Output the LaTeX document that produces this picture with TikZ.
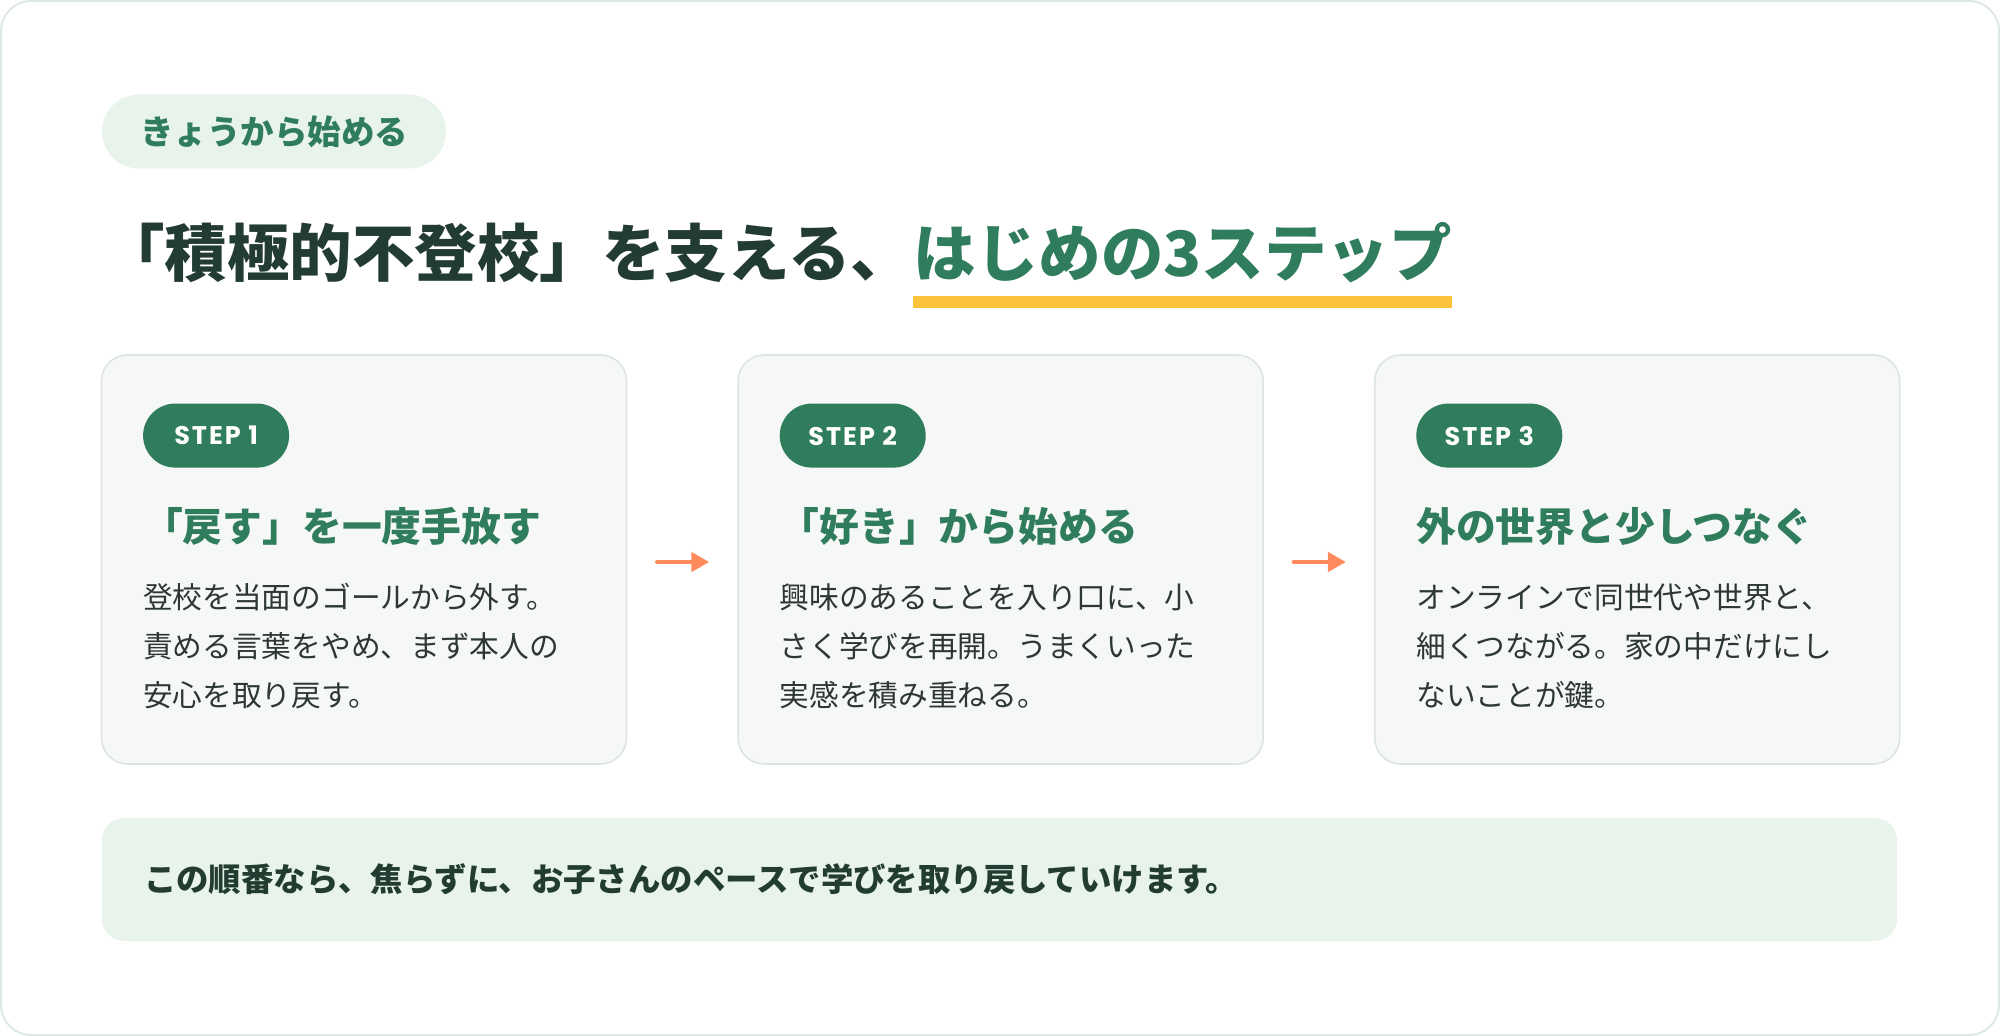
\documentclass[tikz,border=0pt]{standalone}
\usepackage{fontspec}
\setmainfont{Noto Sans CJK JP}
\newfontfamily\tagfont[LetterSpace=8]{Poppins}
\usepackage{xcolor}
\usetikzlibrary{arrows.meta,positioning}
\definecolor{inkdark}{HTML}{233C31}
\definecolor{inkbody}{HTML}{2E3833}
\definecolor{leaf}{HTML}{2F7D5C}
\definecolor{mint}{HTML}{E8F3EC}
\definecolor{cardbg}{HTML}{F6F8F7}
\definecolor{cardline}{HTML}{DCE5E1}
\definecolor{frameline}{HTML}{DDE9E4}
\definecolor{marker}{HTML}{FCC23B}
\definecolor{coral}{HTML}{FF8A5C}
\tikzset{
	outerframe/.style={draw=frameline, line width=1pt, rounded corners=15pt},
	kicker/.style={fill=mint, rounded corners=18.5pt, minimum width=172pt, minimum height=37pt, inner sep=0pt, text=leaf, font=\bfseries\fontsize{16.75}{16.75}\selectfont},
	headline/.style={anchor=west, inner sep=0pt, text=inkdark, font=\bfseries\fontsize{31.25}{31.25}\selectfont},
	card/.style={draw=cardline, fill=cardbg, line width=0.8pt, rounded corners=13pt, minimum width=262.5pt, minimum height=204.5pt, inner sep=0pt},
	steptag/.style={fill=leaf, text=white, rounded corners=16pt, minimum width=73pt, minimum height=32pt, inner sep=0pt, anchor=north west, font=\tagfont\bfseries\fontsize{12.75}{12.75}\selectfont},
	stephead/.style={anchor=west, inner sep=0pt, text=leaf, font=\bfseries\fontsize{19.9}{19.9}\selectfont},
	stepbody/.style={anchor=north west, inner sep=0pt, align=left, text=inkbody, font=\fontsize{14.85}{24.5}\selectfont},
	flow/.style={-{Triangle[length=9pt, width=9.5pt]}, draw=coral, line width=2.3pt, line cap=round, shorten <=15pt, shorten >=14pt},
	summary/.style={fill=mint, rounded corners=11pt, minimum height=61.5pt, text width=855.5pt, inner xsep=21pt, inner ysep=0pt, align=left, text=inkdark, font=\bfseries\fontsize{16.2}{16.2}\selectfont}
}

\begin{document}
\begin{tikzpicture}[x=0.5pt, y=-0.5pt]
	\useasboundingbox (0,0) rectangle (2000,1036);
	\draw[outerframe] (1,1) rectangle (1999,1035);
	% heading block
	\node[kicker] (kick) at (274,131.5) {きょうから始める};
	\node[headline] (ttl) at (102,253) {「積極的不登校」を支える、};
	\node[headline, anchor=base west, text=leaf] (ttlhi) at (ttl.base east) {はじめの3ステップ};
	\fill[marker] (ttlhi.west |- 0,296) rectangle (ttlhi.east |- 0,308);
	% the three steps
	\node[card] (card1) at (364,559.5) {};
	\node[card, right=55pt of card1] (card2) {};
	\node[card, right=55pt of card2] (card3) {};
	\node[steptag] (tag1) at ([xshift=21pt, yshift=-24.5pt]card1.north west) {STEP 1};
	\node[steptag] (tag2) at ([xshift=21pt, yshift=-24.5pt]card2.north west) {STEP 2};
	\node[steptag] (tag3) at ([xshift=21pt, yshift=-24.5pt]card3.north west) {STEP 3};
	\node[stephead] (head1) at ([yshift=-29pt]tag1.south west) {「戻す」を一度手放す};
	\node[stephead] (head2) at ([yshift=-29pt]tag2.south west) {「好き」から始める};
	\node[stephead] (head3) at ([yshift=-29pt]tag3.south west) {外の世界と少しつなぐ};
	\node[stepbody] (body1) at ([yshift=-28.5pt]head1.west) {登校を当面のゴールから外す。\\責める言葉をやめ、まず本人の\\安心を取り戻す。};
	\node[stepbody] (body2) at ([yshift=-28.5pt]head2.west) {興味のあることを入り口に、小\\さく学びを再開。うまくいった\\実感を積み重ねる。};
	\node[stepbody] (body3) at ([yshift=-28.5pt]head3.west) {オンラインで同世代や世界と、\\細くつながる。家の中だけにし\\ないことが鍵。};
	\draw[flow] ([yshift=-1.25pt]card1.east) -- ([yshift=-1.25pt]card2.west);
	\draw[flow] ([yshift=-1.25pt]card2.east) -- ([yshift=-1.25pt]card3.west);
	% closing note
	\node[summary] (note) at (999.5,879.5) {この順番なら、焦らずに、お子さんのペースで学びを取り戻していけます。};
\end{tikzpicture}
\end{document}
